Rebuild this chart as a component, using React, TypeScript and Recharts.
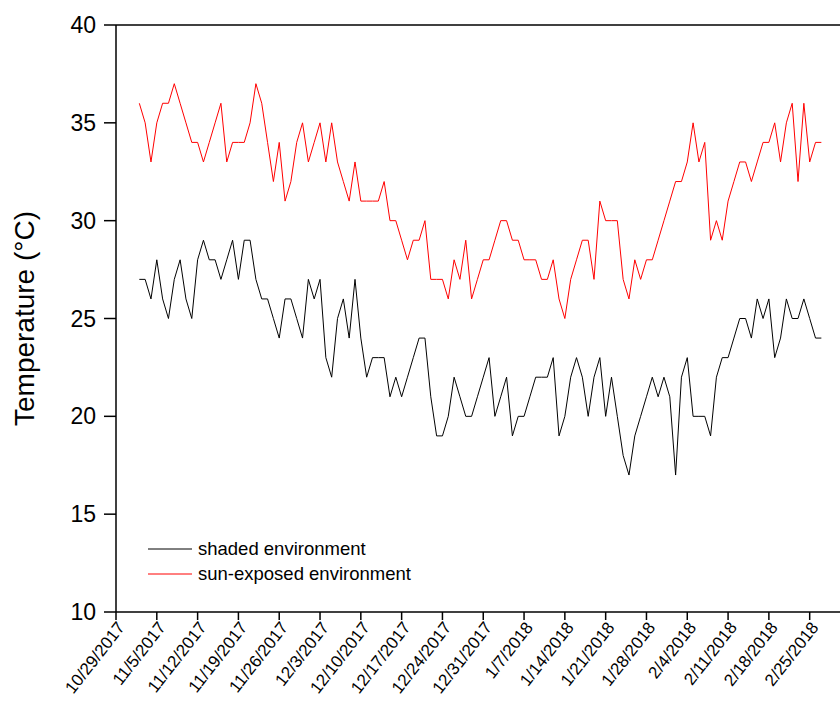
import React from 'react';
import { LineChart, Line, XAxis, YAxis, ReferenceLine, Legend } from 'recharts';

// daily readings, x = days since 10/29/2017; first reading on 11/2/2017
const firstDay = 4;

const shaded = [
  27, 27, 26, 28, 26, 25, 27, 28, 26, 25, 28, 29, 28, 28, 27, 28, 29, 27, 29, 29,
  27, 26, 26, 25, 24, 26, 26, 25, 24, 27, 26, 27, 23, 22, 25, 26, 24, 27, 24, 22,
  23, 23, 23, 21, 22, 21, 22, 23, 24, 24, 21, 19, 19, 20, 22, 21, 20, 20, 21, 22,
  23, 20, 21, 22, 19, 20, 20, 21, 22, 22, 22, 23, 19, 20, 22, 23, 22, 20, 22, 23,
  20, 22, 20, 18, 17, 19, 20, 21, 22, 21, 22, 21, 17, 22, 23, 20, 20, 20, 19, 22,
  23, 23, 24, 25, 25, 24, 26, 25, 26, 23, 24, 26, 25, 25, 26, 25, 24, 24,
];

const sunExposed = [
  36, 35, 33, 35, 36, 36, 37, 36, 35, 34, 34, 33, 34, 35, 36, 33, 34, 34, 34, 35,
  37, 36, 34, 32, 34, 31, 32, 34, 35, 33, 34, 35, 33, 35, 33, 32, 31, 33, 31, 31,
  31, 31, 32, 30, 30, 29, 28, 29, 29, 30, 27, 27, 27, 26, 28, 27, 29, 26, 27, 28,
  28, 29, 30, 30, 29, 29, 28, 28, 28, 27, 27, 28, 26, 25, 27, 28, 29, 29, 27, 31,
  30, 30, 30, 27, 26, 28, 27, 28, 28, 29, 30, 31, 32, 32, 33, 35, 33, 34, 29, 30,
  29, 31, 32, 33, 33, 32, 33, 34, 34, 35, 33, 35, 36, 32, 36, 33, 34, 34,
];

const tickDays = [0, 7, 14, 21, 28, 35, 42, 49, 56, 63, 70, 77, 84, 91, 98, 105, 112, 119];
const tickLabels = [
  '10/29/2017', '11/5/2017', '11/12/2017', '11/19/2017', '11/26/2017', '12/3/2017',
  '12/10/2017', '12/17/2017', '12/24/2017', '12/31/2017', '1/7/2018', '1/14/2018',
  '1/21/2018', '1/28/2018', '2/4/2018', '2/11/2018', '2/18/2018', '2/25/2018',
];
const yTicks = [10, 15, 20, 25, 30, 35, 40];

const data = shaded.map((v, i) => ({
  day: firstDay + i,
  shaded: v,
  sun: sunExposed[i],
}));

const font = '"Liberation Sans", Arial, sans-serif';

const DateTick = ({ x, y, payload }: any) => {
  const label = tickLabels[tickDays.indexOf(payload.value)];
  return (
    <g transform={`translate(${x + 5},${y + 2})`}>
      <text
        x={0}
        y={0}
        dy="0.35em"
        textAnchor="end"
        transform="rotate(-52)"
        fontSize={17}
        fontFamily={font}
        fill="#000"
      >
        {label}
      </text>
    </g>
  );
};

const renderLegend = (props: any) => {
  const { payload } = props;
  return (
    <div style={{ fontFamily: font, fontSize: 18.5, color: '#000' }}>
      {payload.map((entry: any) => (
        <div key={entry.value} style={{ display: 'flex', alignItems: 'center', height: 25 }}>
          <svg width={44} height={4} style={{ marginRight: 6 }}>
            <line x1={0} y1={2} x2={44} y2={2} stroke={entry.color} strokeWidth={1} />
          </svg>
          <span>{entry.value}</span>
        </div>
      ))}
    </div>
  );
};

export default function App() {
  return (
    <div style={{ position: 'absolute', left: 0, top: 0, width: 840, height: 710, background: '#fff', overflow: 'hidden' }}>
      <LineChart width={840} height={710} data={data} margin={{ top: 25, right: 0, left: 0, bottom: 0 }}>
        <XAxis
          dataKey="day"
          type="number"
          domain={[0, 124.2]}
          allowDataOverflow
          ticks={tickDays}
          interval={0}
          tick={<DateTick />}
          tickSize={8}
          height={98}
          axisLine={{ stroke: '#000', strokeWidth: 1.5 }}
          tickLine={{ stroke: '#000', strokeWidth: 1.5 }}
        />
        <YAxis
          domain={[10, 40]}
          ticks={yTicks}
          interval={0}
          width={116}
          tickSize={12}
          tickMargin={8}
          tick={{ fontSize: 23, fill: '#000', fontFamily: font }}
          axisLine={{ stroke: '#000', strokeWidth: 1.5 }}
          tickLine={{ stroke: '#000', strokeWidth: 1.5 }}
          label={{
            value: 'Temperature (\u00B0C)',
            angle: -90,
            position: 'insideLeft',
            offset: 24,
            style: { fontSize: 28, fill: '#000', fontFamily: font, textAnchor: 'middle' },
          }}
        />
        <ReferenceLine y={40} stroke="#000" strokeWidth={1.5} />
        <Legend
          content={renderLegend}
          layout="horizontal"
          verticalAlign="middle"
          wrapperStyle={{ position: 'absolute', left: 148, top: 536, width: 320 }}
        />
        <Line
          type="linear"
          dataKey="shaded"
          name="shaded environment"
          stroke="#000"
          strokeWidth={1}
          dot={false}
          isAnimationActive={false}
        />
        <Line
          type="linear"
          dataKey="sun"
          name="sun-exposed environment"
          stroke="#ff0000"
          strokeWidth={1}
          dot={false}
          isAnimationActive={false}
        />
      </LineChart>
    </div>
  );
}
